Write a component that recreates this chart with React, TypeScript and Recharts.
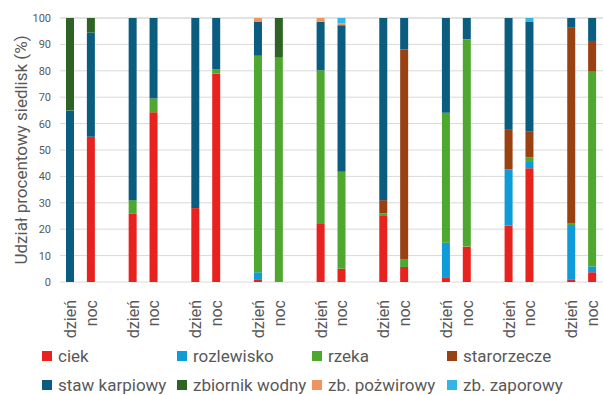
import React from "react";
import { BarChart, Bar, XAxis, YAxis, CartesianGrid, Label } from "recharts";

// bar order: 9 pairs of (dzień, noc)
const periods = [
  "dzień", "noc", "dzień", "noc", "dzień", "noc", "dzień", "noc", "dzień",
  "noc", "dzień", "noc", "dzień", "noc", "dzień", "noc", "dzień", "noc",
];

const ciek = [0, 55, 26, 64.3, 28, 79, 1, 0, 22, 5, 25.3, 5.7, 1.8, 13.4, 21.4, 43.1, 0.8, 3.7];
const rozlewisko = [0, 0, 0, 0, 0, 0, 2.7, 0, 0, 0, 0, 0, 13.1, 0, 21.3, 2.7, 20.8, 2.2];
const rzeka = [0, 0, 5, 5.2, 0, 1.5, 82, 85, 58.2, 36.8, 0.7, 3, 49.2, 78.5, 0, 1.4, 0.6, 74];
const starorzecze = [0, 0, 0, 0, 0, 0, 0, 0, 0, 0, 5, 79.5, 0, 0, 15.2, 9.7, 74.1, 11.4];
const stawKarpiowy = [65, 39.5, 69, 30.5, 72, 19.5, 12.8, 0, 18.4, 55.5, 69, 11.8, 35.9, 8.1, 42.1, 41.6, 3.7, 8.7];
const zbiornikWodny = [35, 5.5, 0, 0, 0, 0, 0, 15, 0, 0, 0, 0, 0, 0, 0, 0, 0, 0];
const zbPozwirowy = [0, 0, 0, 0, 0, 0, 1.5, 0, 1.4, 0.7, 0, 0, 0, 0, 0, 0, 0, 0];
const zbZaporowy = [0, 0, 0, 0, 0, 0, 0, 0, 0, 2, 0, 0, 0, 0, 0, 1.5, 0, 0];

const yTicks = [0, 10, 20, 30, 40, 50, 60, 70, 80, 90, 100];

const SERIES = [
  { key: "ciek", name: "ciek", color: "#E8231F", values: ciek },
  { key: "rozlewisko", name: "rozlewisko", color: "#0E9BD8", values: rozlewisko },
  { key: "rzeka", name: "rzeka", color: "#4EA72E", values: rzeka },
  { key: "starorzecze", name: "starorzecze", color: "#9A4114", values: starorzecze },
  { key: "staw", name: "staw karpiowy", color: "#0B5D80", values: stawKarpiowy },
  { key: "zbiornik", name: "zbiornik wodny", color: "#2E6325", values: zbiornikWodny },
  { key: "pozwirowy", name: "zb. pożwirowy", color: "#F0945F", values: zbPozwirowy },
  { key: "zaporowy", name: "zb. zaporowy", color: "#33B5E8", values: zbZaporowy },
];

// legend grid: two rows of four
const LEGEND_COLS = [42, 177, 312, 447];
const LEGEND_ROWS = [356, 385];

const GREY = "#595959";
const FONT = "Roboto, sans-serif";

type Row = { id: number; label: string; [k: string]: number | string | null };

function buildRows(): Row[] {
  const rows: Row[] = [];
  periods.forEach((p, i) => {
    const row: Row = { id: rows.length, label: p };
    SERIES.forEach((s) => {
      row[s.key] = s.values[i];
    });
    rows.push(row);
    // empty slot between pairs
    if (i % 2 === 1 && i < periods.length - 1) {
      rows.push({ id: rows.length, label: "" });
    }
  });
  return rows;
}

const rows = buildRows();

function PeriodTick(props: any) {
  const { x, y, payload } = props;
  const label = rows[payload.value]?.label;
  if (!label) return null;
  const ty = y + 10;
  return (
    <text
      x={x}
      y={ty}
      transform={`rotate(-90 ${x} ${ty})`}
      textAnchor="end"
      dominantBaseline="central"
      fill={GREY}
      fontSize={16}
      fontFamily={FONT}
    >
      {label}
    </text>
  );
}

export default function App() {
  return (
    <div style={{ position: "absolute", left: 0, top: 0, width: 603, height: 395, background: "#fff", overflow: "hidden" }}>
      <BarChart
        width={603}
        height={395}
        data={rows}
        margin={{ top: 18, right: 0, left: 0, bottom: 53 }}
        barSize={8}
      >
        <CartesianGrid vertical={false} stroke="#d9d9d9" />
        <XAxis
          dataKey="id"
          type="category"
          tick={<PeriodTick />}
          tickLine={false}
          axisLine={false}
          interval={0}
          height={60}
        />
        <YAxis
          domain={[0, 100]}
          ticks={yTicks}
          tick={{ fontSize: 11, fill: GREY, fontFamily: FONT }}
          tickLine={false}
          axisLine={false}
          tickMargin={3}
          width={60}
        >
          <Label
            content={() => (
              <text
                x={21}
                y={150}
                transform="rotate(-90 21 150)"
                textAnchor="middle"
                dominantBaseline="central"
                fill={GREY}
                fontSize={17}
                fontFamily={FONT}
              >
                Udział procentowy siedlisk (%)
              </text>
            )}
          />
        </YAxis>
        {SERIES.map((s) => (
          <Bar key={s.key} dataKey={s.key} name={s.name} stackId="a" fill={s.color} isAnimationActive={false} />
        ))}
      </BarChart>

      {SERIES.map((s, i) => (
        <div
          key={s.key}
          style={{
            position: "absolute",
            left: LEGEND_COLS[i % 4],
            top: LEGEND_ROWS[Math.floor(i / 4)] - 10,
            height: 20,
            display: "flex",
            alignItems: "center",
            fontFamily: FONT,
            fontSize: 17,
            color: GREY,
            whiteSpace: "nowrap",
          }}
        >
          <span style={{ width: 10, height: 10, background: s.color, marginRight: 6, display: "inline-block" }} />
          {s.name}
        </div>
      ))}
    </div>
  );
}
